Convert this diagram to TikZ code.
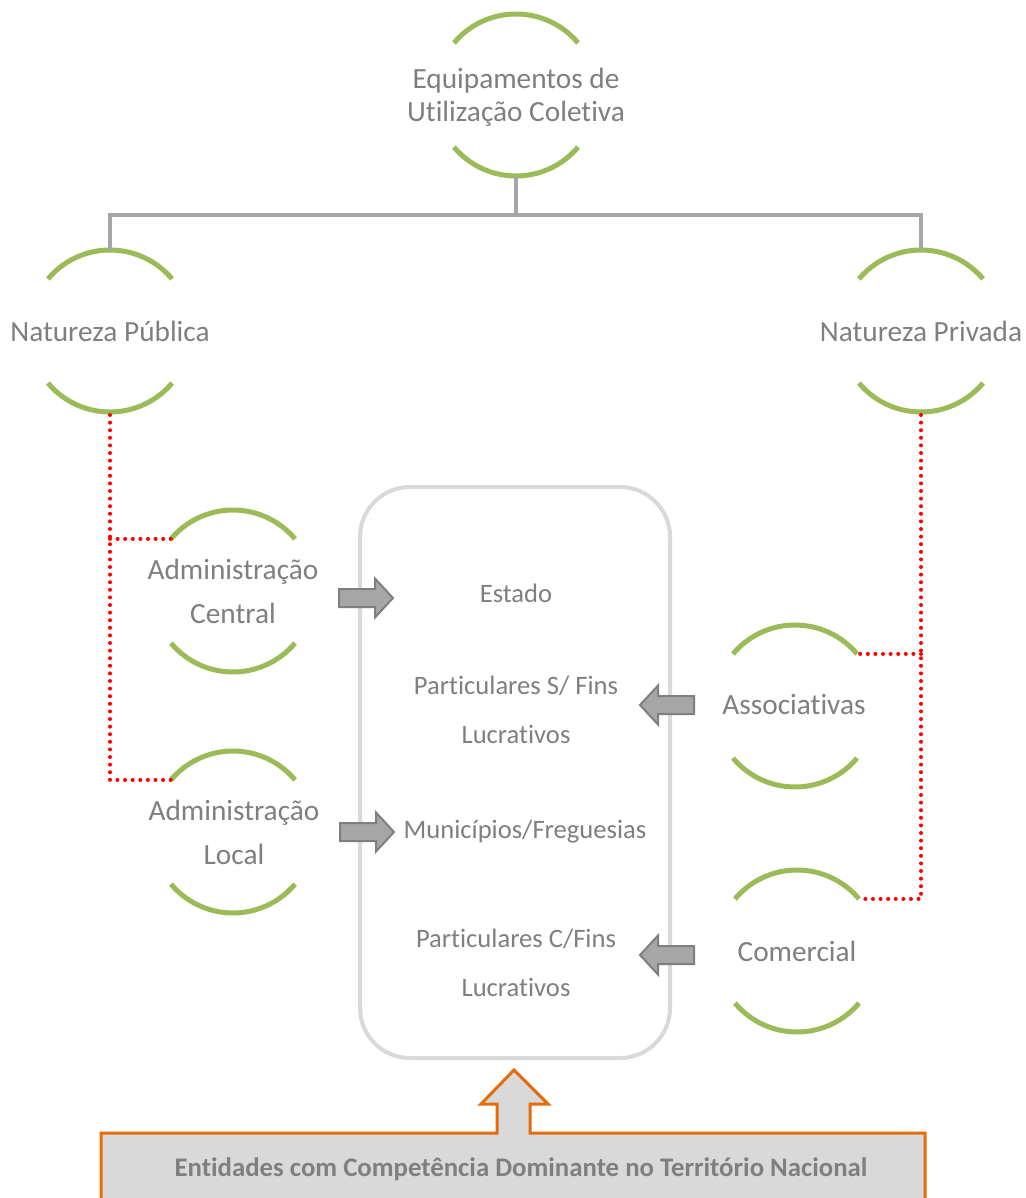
\documentclass[tikz,border=0pt]{standalone}
\usepackage{fontspec}
\setmainfont{Carlito}[Ligatures=NoCommon]
\usetikzlibrary{calc}
\definecolor{txt}{HTML}{7F7F7F}
\definecolor{ringgreen}{HTML}{9BBB59}
\definecolor{treegray}{HTML}{A6A6A6}
\definecolor{boxgray}{HTML}{D9D9D9}
\definecolor{arrfill}{HTML}{A6A6A6}
\definecolor{arrline}{HTML}{7F7F7F}
\definecolor{orangeline}{HTML}{E46C0A}
\newcommand\ringarcs[1]{%
  \draw[ring] ($(#1)+(40:81)$) arc[start angle=40,end angle=140,radius=81];
  \draw[ring] ($(#1)+(220:81)$) arc[start angle=220,end angle=320,radius=81];}
\newcommand\blockarrow[2]{%
  \draw[blk,shift={(#1)},xscale=#2] (0,-9) -- (36,-9) -- (36,-19.5) -- (54,0) -- (36,19.5) -- (36,9) -- (0,9) -- cycle;}
\begin{document}
\begin{tikzpicture}[x=1pt,y=-1pt,
  ring/.style={draw=ringgreen,line width=5},
  lbl/.style={text=txt,inner sep=0,align=center,font=\fontsize{29.3}{33}\selectfont},
  lbltwo/.style={text=txt,inner sep=0,align=center,font=\fontsize{29.3}{44}\selectfont},
  inbox/.style={text=txt,inner sep=0,align=center,font=\fontsize{26.6}{49}\selectfont},
  tree/.style={draw=treegray,line width=3.5},
  reddot/.style={draw=red,line width=4,dash pattern=on 0pt off 7.6pt,line cap=round},
  blk/.style={fill=arrfill,draw=arrline,line width=2,line join=miter},
  roundbox/.style={draw=boxgray,line width=4,rounded corners=50,minimum width=310,minimum height=571,inner sep=0}]
\clip (0,0) rectangle (1025,1198);
\fill[white] (0,0) rectangle (1025,1198);

% circle centres
\coordinate (ceq) at (516,95);
\coordinate (cnp) at (110,331);
\coordinate (cnv) at (921,331);
\coordinate (cac) at (233,591);
\coordinate (cal) at (233,832);
\coordinate (cas) at (795,706);
\coordinate (cco) at (797,951);

\ringarcs{ceq}\ringarcs{cnp}\ringarcs{cnv}\ringarcs{cac}\ringarcs{cal}\ringarcs{cas}\ringarcs{cco}

\node[lbl] (eq) at (516,97) {Equipamentos de\\Utilização Coletiva};
\node[lbl] (np) at (110,331) {Natureza Pública};
\node[lbl] (nv) at (921,331) {Natureza Privada};
\node[lbltwo] (ac) at (233,591) {Administração\\Central};
\node[lbltwo] (al) at (234,832) {Administração\\Local};
\node[lbl] (as) at (794,705) {Associativas};
\node[lbl] (co) at (797,951) {Comercial};

% tree
\coordinate (split) at ($(ceq)+(0,120)$);
\draw[tree] ($(ceq)+(0,81)$) -- (split);
\draw[tree] (split) -| ($(cnp)+(0,-81)$);
\draw[tree] (split) -| ($(cnv)+(0,-81)$);

% red dotted connectors
\coordinate (acL) at ($(cac)+(220:81)$);
\coordinate (alL) at ($(cal)+(220:81)$);
\coordinate (asR) at ($(cas)+(320:81)$);
\coordinate (coR) at ($(cco)+(320:81)$);
\draw[reddot] ($(cnp)+(0,84)$) |- (alL);
\draw[reddot] (acL -| cnp) -- (acL);
\draw[reddot] ($(cnv)+(0,84)$) |- (coR);
\draw[reddot] (asR -| cnv) -- (asR);

% rounded box and its content
\node[roundbox] (box) at (515,772.5) {};
\node[inbox] (est) at (516,593) {Estado};
\node[inbox] (psf) at (516,710) {Particulares S/ Fins\\Lucrativos};
\node[inbox] (mun) at (525,832) {Municípios/Freguesias};
\node[inbox] (pcf) at (516,963) {Particulares C/Fins\\Lucrativos};

% block arrows
\coordinate (a1) at (339,598);
\coordinate (a2) at (340,832);
\coordinate (a3) at (694,705);
\coordinate (a4) at (694,955);
\blockarrow{a1}{1}
\blockarrow{a2}{1}
\blockarrow{a3}{-1}
\blockarrow{a4}{-1}

% bottom box with arrow
\draw[fill=boxgray,draw=orangeline,line width=3,line join=miter]
  (101,1210) -- (101,1133) -- (497,1133) -- (497,1104) -- (481,1104) -- (514,1070)
  -- (548,1104) -- (530,1104) -- (530,1133) -- (925,1133) -- (925,1210);
\node[text=txt,inner sep=0,font=\fontsize{26.8}{30}\selectfont\bfseries] (ent) at (521,1169)
  {Entidades com Competência Dominante no Território Nacional};
\end{tikzpicture}
\end{document}
